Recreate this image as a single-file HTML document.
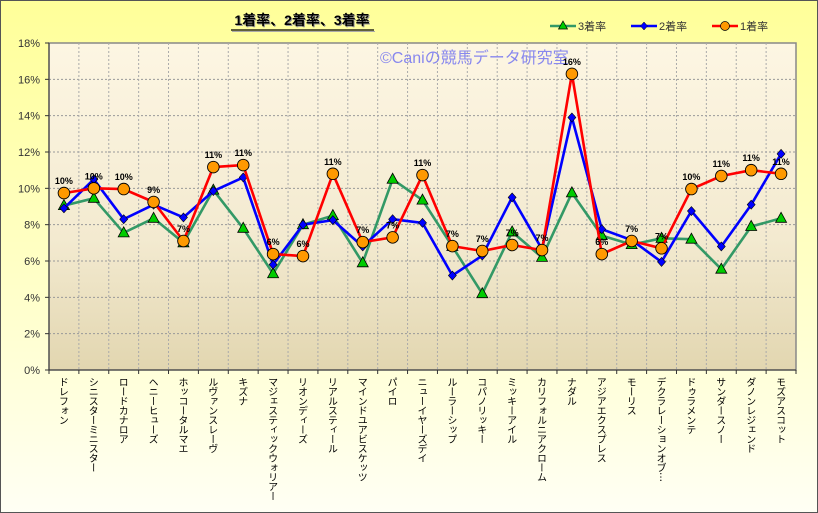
<!DOCTYPE html>
<html><head><meta charset="utf-8">
<style>
body{margin:0;width:818px;height:513px;overflow:hidden;font-family:"Liberation Sans","Noto Sans CJK JP",sans-serif;}
#c{position:absolute;left:0;top:0;width:816px;height:511px;border:1px solid #555;background:linear-gradient(to bottom,#ffff99 0%,#ffffc8 55%,#fffff4 100%);}
.xl{position:absolute;top:377px;writing-mode:vertical-rl;font-size:10px;color:#000;line-height:11px;white-space:nowrap;letter-spacing:-0.5px;font-family:"Noto Sans CJK JP",sans-serif;}
</style></head><body>
<div id="c"></div>
<svg id="s" width="818" height="513" style="position:absolute;left:0;top:0" xmlns="http://www.w3.org/2000/svg"></svg>
<div id="xl"></div>
<script>
const names=["ドレフォン","シニスターミニスター","ロードカナロア","ヘニーヒューズ","ホッコータルマエ","ルヴァンスレーヴ","キズナ","マジェスティックウォリアー","リオンディーズ","リアルスティール","マインドユアビスケッツ","パイロ","ニューイヤーズデイ","ルーラーシップ","コパノリッキー","ミッキーアイル","カリフォルニアクローム","ナダル","アジアエクスプレス","モーリス","デクラレーションオブ…","ドゥラメンテ","サンダースノー","ダノンレジェンド","モズアスコット"];
const r1=[9.74,10.0,9.96,9.25,7.1,11.17,11.28,6.38,6.27,10.8,7.04,7.3,10.73,6.82,6.55,6.88,6.6,16.3,6.38,7.1,6.7,9.96,10.68,11.0,10.8];
const r2=[8.9,10.5,8.3,9.1,8.4,9.85,10.6,5.8,8.0,8.25,6.8,8.3,8.1,5.2,6.3,9.5,6.65,13.9,7.75,7.15,5.95,8.75,6.8,9.1,11.9];
const r3=[9.05,9.45,7.55,8.35,7.0,9.9,7.8,5.3,8.0,8.5,5.9,10.5,9.35,6.8,4.2,7.6,6.2,9.75,7.4,6.9,7.25,7.2,5.55,7.9,8.35];
const L=49,R=796,T=43,B=370,n=25,w=(R-L)/n;
const X=i=>L+w*(i+0.5),Y=v=>B-v*(B-T)/18;
let s='<defs><linearGradient id="pg" x1="0" y1="0" x2="0" y2="1"><stop offset="0" stop-color="#fdf6e3"/><stop offset="0.6" stop-color="#f3ead0"/><stop offset="1" stop-color="#e2d6b0"/></linearGradient></defs>';
s+=`<rect x="${L}" y="${T}" width="${R-L}" height="${B-T}" fill="url(#pg)" stroke="#888" stroke-width="1.5"/>`;
for(let k=1;k<9;k++){s+=`<line x1="${L}" x2="${R}" y1="${Y(k*2)}" y2="${Y(k*2)}" stroke="#999" stroke-dasharray="2,2"/>`;}
for(let i=1;i<n;i++){s+=`<line x1="${L+w*i}" x2="${L+w*i}" y1="${T}" y2="${B}" stroke="#aaa" stroke-dasharray="2,2"/>`;}
for(let i=0;i<=n;i++){s+=`<line x1="${L+w*i}" x2="${L+w*i}" y1="${B}" y2="${B+4}" stroke="#333"/>`;}
for(let k=0;k<=9;k++){s+=`<line x1="${L-4}" x2="${L}" y1="${Y(k*2)}" y2="${Y(k*2)}" stroke="#333"/><text x="${L-9}" y="${Y(k*2)+4}" font-size="11" text-anchor="end" fill="#333">${k*2}%</text>`;}
s+=`<line x1="${L}" x2="${L}" y1="${T}" y2="${B}" stroke="#333"/><line x1="${L}" x2="${R}" y1="${B}" y2="${B}" stroke="#333"/>`;
s+=`<text x="380" y="63" font-size="16" fill="#8888ee" font-family="Liberation Sans,Noto Sans CJK JP,sans-serif">©Caniの競馬データ研究室</text>`;
const pl=(a,c)=>`<polyline fill="none" stroke="${c}" stroke-width="2.6" stroke-linejoin="round" points="${a.map((v,i)=>X(i).toFixed(1)+','+Y(v).toFixed(1)).join(' ')}"/>`;
s+=pl(r3,'#339966');
r3.forEach((v,i)=>{const x=X(i),y=Y(v);s+=`<polygon points="${x},${y-6} ${x+5.5},${y+4} ${x-5.5},${y+4}" fill="#00cc00" stroke="#000" stroke-width="0.8"/>`;});
s+=pl(r2,'#0000ff');
r2.forEach((v,i)=>{const x=X(i),y=Y(v);s+=`<polygon points="${x},${y-4.5} ${x+4},${y} ${x},${y+4.5} ${x-4},${y}" fill="#0000ff" stroke="#000" stroke-width="0.6"/>`;});
s+=pl(r1,'#ff0000');
r1.forEach((v,i)=>{const x=X(i),y=Y(v);s+=`<circle cx="${x}" cy="${y}" r="5.8" fill="#ff9900" stroke="#000" stroke-width="0.9"/><text x="${x}" y="${y-9}" font-size="9" font-weight="bold" text-anchor="middle" fill="#000">${Math.round(v)}%</text>`;});
s+=`<text x="303" y="26" font-size="14" font-weight="bold" text-anchor="middle" fill="#999" font-family="Liberation Sans,Noto Sans CJK JP,sans-serif">1着率、2着率、3着率</text>`;
s+=`<text x="302" y="25" font-size="14" font-weight="bold" text-anchor="middle" fill="#000" font-family="Liberation Sans,Noto Sans CJK JP,sans-serif">1着率、2着率、3着率</text>`;
s+=`<line x1="231" x2="374" y1="30" y2="30" stroke="#000" stroke-width="1.2"/><line x1="232" x2="375" y1="31.5" y2="31.5" stroke="#aaa" stroke-width="1"/>`;
const lg=[[550,'#339966','t','3着率'],[631,'#0000ff','d','2着率'],[712,'#ff0000','c','1着率']];
lg.forEach(([x,c,m,t])=>{const y=26;s+=`<line x1="${x}" x2="${x+26}" y1="${y}" y2="${y}" stroke="${c}" stroke-width="2.6"/>`;const cx=x+13;
if(m=='t')s+=`<polygon points="${cx},${y-5} ${cx+4.5},${y+3} ${cx-4.5},${y+3}" fill="#00cc00" stroke="#000" stroke-width="0.7"/>`;
if(m=='d')s+=`<polygon points="${cx},${y-4} ${cx+3.5},${y} ${cx},${y+4} ${cx-3.5},${y}" fill="#0000ff" stroke="#000" stroke-width="0.5"/>`;
if(m=='c')s+=`<circle cx="${cx}" cy="${y}" r="4.5" fill="#ff9900" stroke="#000" stroke-width="0.7"/>`;
s+=`<text x="${x+28}" y="${y+4}" font-size="11" fill="#333" font-family="Liberation Sans,Noto Sans CJK JP,sans-serif">${t}</text>`;});
document.getElementById('s').innerHTML=s;
let h='';names.forEach((t,i)=>{h+=`<div class="xl" style="left:${(X(i)-5.5).toFixed(1)}px">${t}</div>`;});
document.getElementById('xl').innerHTML=h;
</script>
</body></html>
